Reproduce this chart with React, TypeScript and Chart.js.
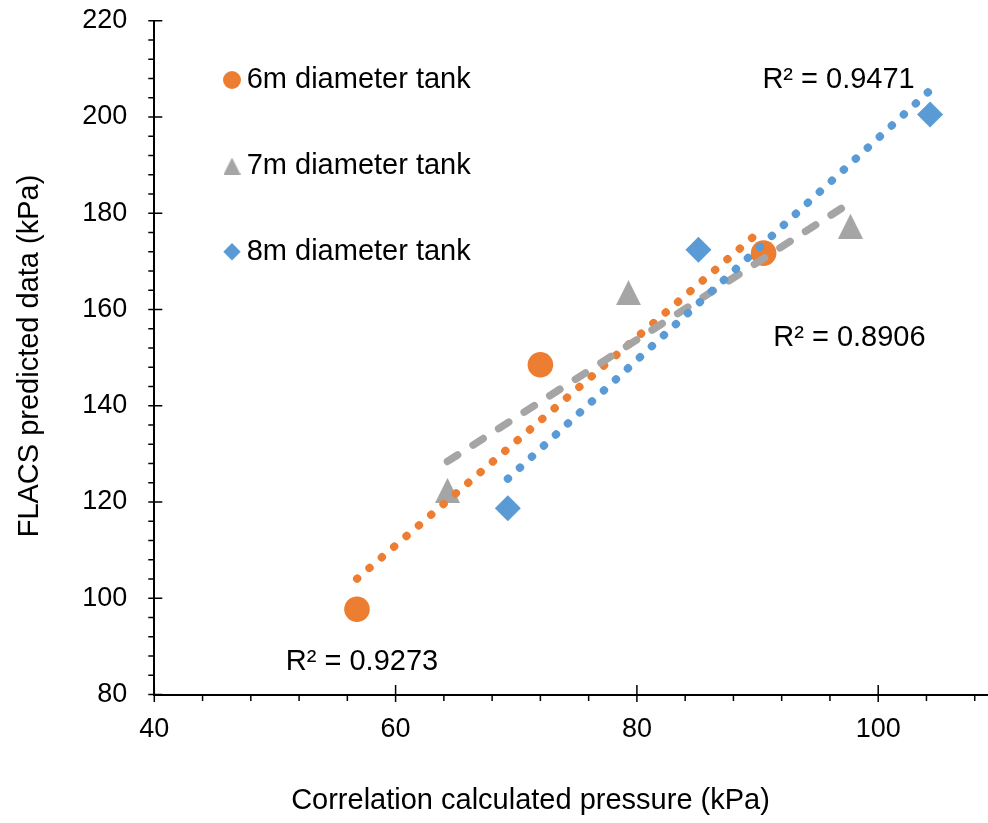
import React, { useEffect, useRef } from 'react';
import { Chart, registerables } from 'chart.js';

Chart.register(...registerables);

// ---- data ----
const seriesNames = ['6m diameter tank', '7m diameter tank', '8m diameter tank'];
const x6 = [56.8, 72.0, 90.5];
const y6 = [97.7, 148.5, 171.7];
const x7 = [64.3, 79.3, 97.7];
const y7 = [122.4, 163.5, 177.3];
const x8 = [69.3, 85.1, 104.3];
const y8 = [118.7, 172.4, 200.5];
const r2Labels = ['R² = 0.9273', 'R² = 0.8906', 'R² = 0.9471'];
const r2X = [50.9, 91.3, 90.4];
const r2Y = [86.75, 154.1, 207.7];
const xMajorStep = 20;
const yMajorStep = 20;
const xTitle = 'Correlation calculated pressure (kPa)';
const yTitle = 'FLACS predicted data (kPa)';

const COLORS = ['#ED7D31', '#A5A5A5', '#5B9BD5'];
const FONT = "'Liberation Sans', Arial, sans-serif";

function pts(xs: number[], ys: number[]) {
  return xs.map((x, i) => ({ x, y: ys[i] }));
}

function fit(xs: number[], ys: number[]) {
  const n = xs.length;
  const mx = xs.reduce((a, b) => a + b, 0) / n;
  const my = ys.reduce((a, b) => a + b, 0) / n;
  let sxy = 0, sxx = 0;
  for (let i = 0; i < n; i++) {
    sxy += (xs[i] - mx) * (ys[i] - my);
    sxx += (xs[i] - mx) ** 2;
  }
  const b = sxy / sxx;
  const a = my - b * mx;
  const x0 = Math.min(...xs), x1 = Math.max(...xs);
  return [{ x: x0, y: a + b * x0 }, { x: x1, y: a + b * x1 }];
}

function triangleImg(w: number, h: number, color: string) {
  const c = document.createElement('canvas');
  c.width = w; c.height = h;
  const g = c.getContext('2d')!;
  g.fillStyle = color;
  g.beginPath();
  g.moveTo(w / 2, 0);
  g.lineTo(w, h);
  g.lineTo(0, h);
  g.closePath();
  g.fill();
  return c;
}

function zeroPad(s: any) {
  s.paddingTop = 0;
  s.paddingBottom = 0;
  s.paddingLeft = 0;
  s.paddingRight = 0;
}

export default function App() {
  const ref = useRef<HTMLCanvasElement>(null);

  useEffect(() => {
    const canvas = ref.current!;
    const tri = triangleImg(25, 25, COLORS[1]);
    const legendTri = triangleImg(17, 17, COLORS[1]);

    const overlay = {
      id: 'overlay',
      afterDraw(chart: any) {
        const ctx = chart.ctx;
        const xs = chart.scales.x;
        const ys = chart.scales.y;
        const { left, bottom } = chart.chartArea;
        ctx.save();
        // tick marks
        ctx.strokeStyle = '#000';
        ctx.lineWidth = 1.5;
        ctx.beginPath();
        xs.ticks.forEach((t: any) => {
          const px = xs.getPixelForValue(t.value);
          if (Math.abs(t.value % xMajorStep) < 1e-6) {
            ctx.moveTo(px, bottom - 9.5);
            ctx.lineTo(px, bottom + 7.5);
          } else {
            ctx.moveTo(px, bottom);
            ctx.lineTo(px, bottom + 6.5);
          }
        });
        ys.ticks.forEach((t: any) => {
          const py = ys.getPixelForValue(t.value);
          if (Math.abs(t.value % yMajorStep) < 1e-6) {
            ctx.moveTo(left - 6, py);
            ctx.lineTo(left + 8, py);
          } else {
            ctx.moveTo(left - 6, py);
            ctx.lineTo(left, py);
          }
        });
        ctx.stroke();

        // axis titles
        ctx.fillStyle = '#000';
        ctx.font = `29px ${FONT}`;
        ctx.textBaseline = 'middle';
        ctx.textAlign = 'center';
        ctx.fillText(xTitle, 530.5, 801);
        ctx.save();
        ctx.translate(30, 356);
        ctx.rotate(-Math.PI / 2);
        ctx.fillText(yTitle, 0, 0);
        ctx.restore();

        // R² labels
        ctx.textAlign = 'left';
        r2Labels.forEach((s, i) => {
          ctx.fillText(s, xs.getPixelForValue(r2X[i]), ys.getPixelForValue(r2Y[i]));
        });

        // legend
        const lx = 232;
        const rows = [80, 166, 251.7];
        ctx.fillStyle = COLORS[0];
        ctx.beginPath();
        ctx.arc(lx, rows[0], 9, 0, Math.PI * 2);
        ctx.fill();
        ctx.drawImage(legendTri, lx - 8.5, rows[1] - 8.5);
        ctx.fillStyle = COLORS[2];
        ctx.beginPath();
        ctx.moveTo(lx, rows[2] - 8.7);
        ctx.lineTo(lx + 8.7, rows[2]);
        ctx.lineTo(lx, rows[2] + 8.7);
        ctx.lineTo(lx - 8.7, rows[2]);
        ctx.closePath();
        ctx.fill();
        ctx.fillStyle = '#000';
        seriesNames.forEach((s, i) => ctx.fillText(s, 246.7, rows[i]));
        ctx.restore();
      },
    };

    const dotted = { borderWidth: 8, borderDash: [0.5, 15.8], borderCapStyle: 'round' };

    const chart = new Chart(canvas, {
      type: 'scatter',
      data: {
        datasets: [
          {
            label: seriesNames[2] + ' trend',
            type: 'line',
            data: fit(x8, y8),
            borderColor: COLORS[2],
            ...dotted,
            pointRadius: 0,
            fill: false,
            order: 0,
          } as any,
          {
            label: seriesNames[1] + ' trend',
            type: 'line',
            data: fit(x7, y7),
            borderColor: COLORS[1],
            borderWidth: 7.5,
            borderDash: [12, 18.4],
            borderCapStyle: 'round',
            pointRadius: 0,
            fill: false,
            order: 1,
          },
          {
            label: seriesNames[0] + ' trend',
            type: 'line',
            data: fit(x6, y6),
            borderColor: COLORS[0],
            ...dotted,
            pointRadius: 0,
            fill: false,
            order: 2,
          },
          {
            label: seriesNames[0],
            data: pts(x6, y6),
            backgroundColor: COLORS[0],
            borderWidth: 0,
            pointStyle: 'circle',
            pointRadius: 12.8,
            order: 3,
          },
          {
            label: seriesNames[1],
            data: pts(x7, y7),
            backgroundColor: COLORS[1],
            borderWidth: 0,
            pointStyle: tri,
            pointRadius: 12.5,
            order: 4,
          },
          {
            label: seriesNames[2],
            data: pts(x8, y8),
            backgroundColor: COLORS[2],
            borderWidth: 0,
            pointStyle: 'rectRot',
            pointRadius: 13,
            order: 5,
          },
        ],
      },
      options: {
        animation: false,
        responsive: false,
        devicePixelRatio: 1,
        events: [],
        layout: { autoPadding: false, padding: { top: 20.7, right: 0, bottom: 0, left: 0 } },
        plugins: { legend: { display: false }, tooltip: { enabled: false }, title: { display: false } },
        scales: {
          x: {
            type: 'linear',
            min: 40,
            max: 109.1,
            afterFit: (s: any) => { s.height = 128.5; zeroPad(s); },
            grid: { display: false, drawTicks: false },
            border: { display: true, color: '#000', width: 2 },
            ticks: {
              stepSize: 4,
              autoSkip: false,
              includeBounds: false,
              maxRotation: 0,
              padding: 18.8,
              color: '#000',
              font: { family: FONT, size: 27 },
              callback: (v: any) => (Math.abs(Number(v) % xMajorStep) < 1e-6 ? String(v) : ''),
            },
          },
          y: {
            type: 'linear',
            min: 80,
            max: 220,
            afterFit: (s: any) => { s.width = 154.3; zeroPad(s); },
            grid: { display: false, drawTicks: false },
            border: { display: true, color: '#000', width: 2 },
            ticks: {
              stepSize: 4,
              autoSkip: false,
              includeBounds: false,
              padding: 27,
              color: '#000',
              font: { family: FONT, size: 27 },
              callback: (v: any) => (Math.abs(Number(v) % yMajorStep) < 1e-6 ? String(v) : ''),
            },
          },
        },
      },
      plugins: [overlay],
    });
    return () => chart.destroy();
  }, []);

  return (
    <div style={{ position: 'fixed', left: 0, top: 0, width: 988, height: 823, background: '#fff' }}>
      <canvas ref={ref} width={988} height={823} style={{ display: 'block', width: 988, height: 823 }} />
    </div>
  );
}
